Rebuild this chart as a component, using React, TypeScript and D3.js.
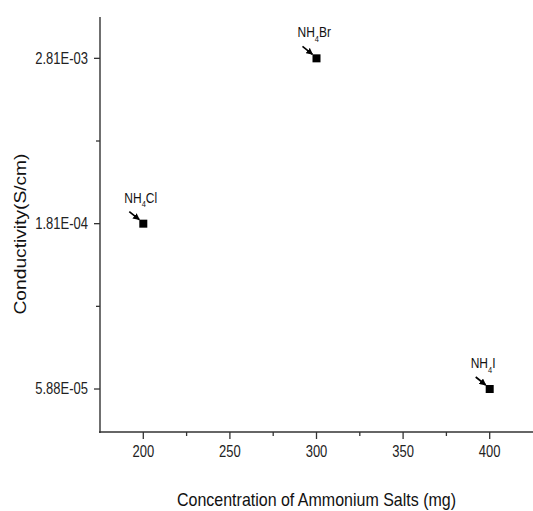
import { scaleLinear } from "d3";

const salts = ["NH4Cl", "NH4Br", "NH4I"];
const saltBase = ["NH", "NH", "NH"];
const saltSub = ["4", "4", "4"];
const saltAnion = ["Cl", "Br", "I"];
const concentrations = [200, 300, 400];
const conductivity = [1.81e-4, 2.81e-3, 5.88e-5];
const xTicks = [200, 250, 300, 350, 400];
const xMinorTicks = [225, 275, 325, 375];
const yTickLabels = ["5.88E-05", "1.81E-04", "2.81E-03"];

const W = 533;
const H = 511;
const PLOT = { left: 100, right: 533, top: 17, bottom: 432 };
const FONT = "'Liberation Sans', Arial, sans-serif";
const STRETCH = 1.2; // reference looks vertically stretched
const AXIS = "#333";

export default function App() {
  const x = scaleLinear().domain([175, 425]).range([PLOT.left, PLOT.right]);
  // y axis is ordinal-like: equal spacing per conductivity level
  const levels = conductivity.slice().sort((a, b) => a - b);
  const y = scaleLinear().domain([-0.26, 2.25]).range([PLOT.bottom, PLOT.top]);
  const yOf = (v: number) => y(levels.indexOf(v));
  const yMinor = [0.5, 1.5];

  return (
    <svg
      width={W}
      height={H}
      style={{ position: "absolute", left: 0, top: 0, background: "#fff" }}
      fontFamily={FONT}
    >
      <defs>
        <marker
          id="arrow"
          viewBox="0 0 10 10"
          refX="9"
          refY="5"
          markerWidth="4"
          markerHeight="4"
          orient="auto"
        >
          <path d="M0,0 L10,5 L0,10 z" fill="#000" />
        </marker>
      </defs>

      {/* axes */}
      <line x1={PLOT.left} x2={PLOT.left} y1={PLOT.top} y2={PLOT.bottom + 1} stroke={AXIS} strokeWidth={1.4} />
      <line x1={PLOT.left - 1} x2={PLOT.right} y1={PLOT.bottom} y2={PLOT.bottom} stroke={AXIS} strokeWidth={1.4} />

      {xTicks.map((t) => (
        <g key={t}>
          <line x1={x(t)} x2={x(t)} y1={PLOT.bottom} y2={PLOT.bottom + 7} stroke={AXIS} strokeWidth={1.3} />
          <text
            transform={`translate(${x(t)},${PLOT.bottom + 25}) scale(1,${STRETCH})`}
            textAnchor="middle"
            fontSize={13}
            fill="#222"
          >
            {t}
          </text>
        </g>
      ))}
      {xMinorTicks.map((t) => (
        <line key={t} x1={x(t)} x2={x(t)} y1={PLOT.bottom} y2={PLOT.bottom + 4} stroke={AXIS} strokeWidth={1.3} />
      ))}

      {yTickLabels.map((lab, i) => (
        <g key={lab}>
          <line x1={PLOT.left - 6} x2={PLOT.left} y1={y(i)} y2={y(i)} stroke={AXIS} strokeWidth={1.3} />
          <text
            transform={`translate(${PLOT.left - 12},${y(i)}) scale(1,${STRETCH})`}
            textAnchor="end"
            dy="0.35em"
            fontSize={13}
            fill="#222"
          >
            {lab}
          </text>
        </g>
      ))}
      {yMinor.map((t) => (
        <line key={t} x1={PLOT.left - 4} x2={PLOT.left} y1={y(t)} y2={y(t)} stroke={AXIS} strokeWidth={1.3} />
      ))}

      {/* titles */}
      <text
        transform={`translate(${(PLOT.left + PLOT.right) / 2},506) scale(1,${STRETCH})`}
        textAnchor="middle"
        fontSize={16}
        fill="#111"
      >
        Concentration of Ammonium Salts (mg)
      </text>
      <text
        transform={`translate(26,234) scale(1,${STRETCH}) rotate(-90)`}
        textAnchor="middle"
        fontSize={16}
        fill="#111"
      >
        Conductivity(S/cm)
      </text>

      {/* points with labels */}
      {salts.map((s, i) => {
        const px = x(concentrations[i]);
        const py = yOf(conductivity[i]);
        return (
          <g key={s}>
            <line
              x1={px - 14}
              y1={py - 12}
              x2={px - 4}
              y2={py - 4}
              stroke="#000"
              strokeWidth={1.7}
              markerEnd="url(#arrow)"
            />
            <rect x={px - 4} y={py - 4} width={8} height={8} fill="#000" />
            <text
              transform={`translate(${px - 19},${py - 21}) scale(1,${STRETCH})`}
              fontSize={12}
              fill="#111"
            >
              <tspan>{saltBase[i]}</tspan>
              <tspan fontSize={7.5} dy={4}>
                {saltSub[i]}
              </tspan>
              <tspan dy={-4}>{saltAnion[i]}</tspan>
            </text>
          </g>
        );
      })}
    </svg>
  );
}
